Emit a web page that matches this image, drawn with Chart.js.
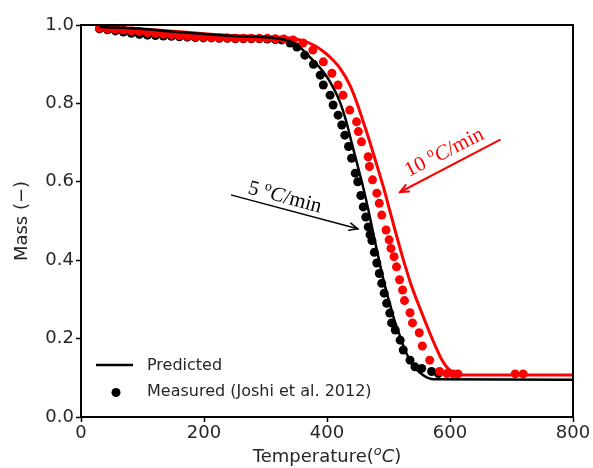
<!DOCTYPE html>
<html><head><meta charset="utf-8">
<script src="https://cdn.jsdelivr.net/npm/chart.js@4.4.0/dist/chart.umd.min.js"></script>
<style>html,body{margin:0;padding:0;background:#fff;} #wrap{width:593px;height:468px;}</style>
</head><body><div id="wrap"><canvas id="c" width="593" height="468"></canvas></div>
<script>
// ---- tick labels ----
const xTicks = [0, 200, 400, 600, 800];
const yTicks = [0.0, 0.2, 0.4, 0.6, 0.8, 1.0];

// ---- Predicted, 5 C/min (black line) ----
const tempPred5 = [30,100,150,200,250,300,330,350,365,377,389,405,421,432,440,450,459,467,475,486,495,502,510,519,527,535,545,556,565,575,800];
const massPred5 = [0.995,0.99,0.983,0.977,0.972,0.969,0.963,0.95,0.93,0.91,0.89,0.855,0.804,0.75,0.70,0.64,0.585,0.53,0.47,0.39,0.33,0.29,0.245,0.205,0.17,0.145,0.122,0.107,0.099,0.096,0.095];

// ---- Predicted, 10 C/min (red line) ----
const tempPred10 = [30,100,150,200,250,300,340,360,378,392,405,421,437,448,459,468,480,492,502,513,520,527,537,548,558,567,577,586,595,605,616,630,800];
const massPred10 = [0.995,0.99,0.984,0.978,0.973,0.97,0.967,0.96,0.949,0.935,0.918,0.89,0.847,0.804,0.753,0.71,0.648,0.585,0.527,0.463,0.424,0.386,0.336,0.29,0.25,0.215,0.178,0.148,0.127,0.114,0.108,0.107,0.107];

// ---- Measured, 5 C/min (black dots) ----
const tempMeas5 = [30,43,56,69,82,95,108,121,134,147,160,173,186,199,212,225,238,251,264,277,290,303,316,326,340,351,364,378,389,394,405,410,418,424,429,435,440,446,450,455,459,463,467,470,473,477,481,485,489,493,497,502,505,511,519,524,535,543,554,570,581];
const massMeas5 = [0.99,0.988,0.985,0.982,0.979,0.976,0.974,0.973,0.972,0.971,0.97,0.969,0.968,0.967,0.967,0.966,0.966,0.965,0.965,0.965,0.965,0.964,0.963,0.962,0.954,0.944,0.923,0.90,0.872,0.847,0.821,0.796,0.77,0.745,0.719,0.69,0.66,0.622,0.60,0.565,0.536,0.51,0.485,0.465,0.45,0.42,0.393,0.366,0.341,0.316,0.29,0.265,0.24,0.222,0.196,0.171,0.145,0.128,0.124,0.116,0.111];

// ---- Measured, 10 C/min (red dots) ----
const tempMeas10 = [30,43,56,69,82,95,108,121,134,147,160,173,186,199,212,225,238,251,264,277,290,303,316,330,345,361,377,394,408,418,426,437,448,451,456,467,469,474,481,485,489,496,501,504,509,513,518,523,526,535,539,550,555,567,583,595,605,613,706,719];
const massMeas10 = [0.992,0.99,0.989,0.987,0.985,0.983,0.981,0.979,0.977,0.975,0.973,0.971,0.97,0.969,0.968,0.967,0.967,0.966,0.966,0.966,0.966,0.966,0.965,0.964,0.962,0.954,0.936,0.906,0.877,0.847,0.821,0.783,0.753,0.728,0.702,0.664,0.639,0.605,0.571,0.545,0.515,0.477,0.452,0.43,0.409,0.383,0.35,0.324,0.297,0.266,0.24,0.215,0.181,0.145,0.116,0.111,0.11,0.11,0.11,0.11];

const toPts = (xs, ys) => xs.map((x, i) => ({x: x, y: ys[i]}));

const TEXT = '#262626';
const SANS = "'DejaVu Sans', sans-serif";
const SERIF = "'Liberation Serif', 'Times New Roman', serif";

function drawArrow(ctx, x1, y1, x2, y2, color, lw) {
  const a = Math.atan2(y2 - y1, x2 - x1);
  const hl = 9, ha = 0.42;
  ctx.save();
  ctx.strokeStyle = color; ctx.lineWidth = lw; ctx.lineCap = 'round';
  ctx.beginPath(); ctx.moveTo(x1, y1); ctx.lineTo(x2, y2); ctx.stroke();
  ctx.beginPath();
  ctx.moveTo(x2 - hl * Math.cos(a - ha), y2 - hl * Math.sin(a - ha));
  ctx.lineTo(x2, y2);
  ctx.lineTo(x2 - hl * Math.cos(a + ha), y2 - hl * Math.sin(a + ha));
  ctx.stroke();
  ctx.restore();
}

function drawRate(ctx, x, y, angleDeg, num, color) {
  ctx.save();
  ctx.translate(x, y);
  ctx.rotate(angleDeg * Math.PI / 180);
  ctx.fillStyle = color;
  ctx.textBaseline = 'alphabetic';
  ctx.textAlign = 'left';
  let cx = 0;
  ctx.font = '21px ' + SERIF;
  ctx.fillText(num + ' ', cx, 0); cx += ctx.measureText(num + ' ').width;
  ctx.font = '14px ' + SERIF;
  ctx.fillText('o', cx, -8); cx += ctx.measureText('o').width;
  ctx.font = 'italic 21px ' + SERIF;
  ctx.fillText('C', cx, 0); cx += ctx.measureText('C').width;
  ctx.font = '21px ' + SERIF;
  ctx.fillText('/min', cx, 0);
  ctx.restore();
}

const decor = {
  id: 'decor',
  afterDatasetsDraw(chart) {
    const ctx = chart.ctx, a = chart.chartArea;
    const xs = chart.scales.x, ys = chart.scales.y;
    const px = v => xs.getPixelForValue(v), py = v => ys.getPixelForValue(v);
    // frame
    ctx.save();
    ctx.strokeStyle = '#000'; ctx.lineWidth = 2;
    ctx.strokeRect(a.left, a.top, a.right - a.left, a.bottom - a.top);
    ctx.restore();
    // annotations
    drawArrow(ctx, px(245), py(0.566), px(450), py(0.480), '#000', 1.5);
    drawRate(ctx, px(270), py(0.571), 15, '5', '#000');
    drawArrow(ctx, px(681), py(0.707), px(519), py(0.574), '#ff0000', 2);
    drawRate(ctx, px(533), py(0.612), -27, '10', '#ff0000');
    // legend
    ctx.save();
    ctx.strokeStyle = '#000'; ctx.lineWidth = 2.5;
    ctx.beginPath(); ctx.moveTo(96, 365); ctx.lineTo(133, 365); ctx.stroke();
    ctx.fillStyle = '#000';
    ctx.beginPath(); ctx.arc(116, 392.5, 4.5, 0, Math.PI * 2); ctx.fill();
    ctx.fillStyle = TEXT; ctx.font = '16px ' + SANS; ctx.textBaseline = 'middle'; ctx.textAlign = 'left';
    ctx.fillText('Predicted', 147, 366);
    ctx.fillText('Measured (Joshi et al. 2012)', 147, 392);
    ctx.restore();
  },
  afterDraw(chart) {
    const ctx = chart.ctx, a = chart.chartArea;
    // x axis title: Temperature(oC) with italic superscript o and italic C
    ctx.save();
    ctx.fillStyle = TEXT; ctx.textBaseline = 'alphabetic'; ctx.textAlign = 'left';
    const parts = [
      {t: 'Temperature(', f: '18px ' + SANS, dy: 0},
      {t: 'o', f: 'italic 13px ' + SANS, dy: -7},
      {t: 'C', f: 'italic 18px ' + SANS, dy: 0},
      {t: ')', f: '18px ' + SANS, dy: 0}
    ];
    let w = 0;
    parts.forEach(p => { ctx.font = p.f; p.w = ctx.measureText(p.t).width; w += p.w; });
    let x = (a.left + a.right) / 2 - w / 2;
    parts.forEach(p => { ctx.font = p.f; ctx.fillText(p.t, x, 462 + p.dy); x += p.w; });
    ctx.restore();
  }
};

new Chart(document.getElementById('c').getContext('2d'), {
  type: 'scatter',
  data: {
    datasets: [
      {label: 'Predicted 5', data: toPts(tempPred5, massPred5), showLine: true, borderColor: '#000', borderWidth: 2.5, pointRadius: 0, cubicInterpolationMode: 'monotone', order: 0},
      {label: 'Predicted 10', data: toPts(tempPred10, massPred10), showLine: true, borderColor: '#ff0000', borderWidth: 3, pointRadius: 0, cubicInterpolationMode: 'monotone', order: 1},
      {label: 'Measured 10', data: toPts(tempMeas10, massMeas10), showLine: false, backgroundColor: '#ff0000', borderWidth: 0, pointRadius: 4.5, order: 2},
      {label: 'Measured 5', data: toPts(tempMeas5, massMeas5), showLine: false, backgroundColor: '#000', borderWidth: 0, pointRadius: 4.5, order: 3}
    ]
  },
  options: {
    responsive: false, animation: false, devicePixelRatio: 1,
    layout: {padding: {left: 0, right: 20, top: 25, bottom: 0}},
    plugins: {legend: {display: false}, tooltip: {enabled: false}},
    scales: {
      x: {
        type: 'linear', min: 0, max: 800,
        afterBuildTicks: s => { s.ticks = xTicks.map(v => ({value: v})); },
        afterFit: s => { s.height = 51; },
        grid: {drawOnChartArea: false, drawTicks: true, tickLength: 5, tickColor: '#000', tickWidth: 1.5},
        border: {display: false},
        ticks: {color: TEXT, font: {family: SANS, size: 18}, padding: 1, maxRotation: 0, autoSkip: false}
      },
      y: {
        type: 'linear', min: 0, max: 1,
        afterBuildTicks: s => { s.ticks = yTicks.map(v => ({value: v})); },
        afterFit: s => { s.width = 81; },
        grid: {drawOnChartArea: false, drawTicks: true, tickLength: 5, tickColor: '#000', tickWidth: 1.5},
        border: {display: false},
        ticks: {color: TEXT, font: {family: SANS, size: 18}, padding: 2, autoSkip: false, callback: v => v.toFixed(1)},
        title: {display: true, text: 'Mass (\u2212)', color: TEXT, font: {family: SANS, size: 18}, padding: {top: 12, bottom: 0}}
      }
    }
  },
  plugins: [decor]
});
</script>
</body></html>
